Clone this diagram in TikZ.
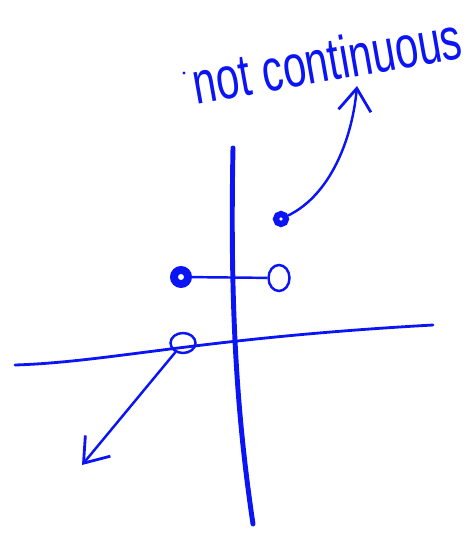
\documentclass[tikz,border=0pt]{standalone}
\usepackage{fontspec}
\setmainfont{Liberation Sans}
\usepackage{tikz}
\usetikzlibrary{
  shapes.geometric,
  arrows.meta,
  positioning
}
\definecolor{penblue}{RGB}{10,20,245}

\begin{document}
\begin{tikzpicture}[x=0.02cm, y=-0.02cm,
  axis/.style={draw=penblue, line cap=round},
  hole/.style={ellipse, draw=penblue, line width=1.4pt, inner sep=0pt, minimum width=0.5cm, minimum height=0.4cm},
  dot/.style={circle, draw=penblue, line width=4.5pt, fill=white, inner sep=0pt, minimum size=0.28cm},
  arr/.style={draw=penblue, line width=1.4pt, line cap=round, -{Straight Barb[length=0.45cm, width=0.65cm, line width=1.6pt]}}
]
  \useasboundingbox (0,0) rectangle (471,533);
  % axes
  \coordinate (ytop) at (233,148);
  \coordinate (ybot) at (253,524);
  \coordinate (xl) at (15,365);
  \coordinate (xr) at (433,325);
  \draw[axis, line width=2.8pt] (ytop) .. controls (230,300) and (236,410) .. (ybot);
  \draw[axis, line width=1.6pt] (xl) .. controls (110,362) and (200,338) .. (xr);
  % points
  \node[hole] (hole) at (183,343) {};
  \node[dot] (ldot) at (181,277) {};
  \node[hole, minimum width=0.42cm, minimum height=0.52cm] (rhole) at (279,278) {};
  \node[dot, line width=3.5pt, minimum size=0.2cm] (tdot) at (281,219) {};
  \draw[draw=penblue, line width=1.4pt] (ldot) -- (rhole);
  % arrows
  \coordinate (tipA) at (82,465);
  \coordinate (tipB) at (357,86);
  \draw[arr] (hole) -- (tipA);
  \draw[arr] (tdot) .. controls (330,195) and (352,140) .. (tipB);
  % label
  \fill[penblue] (184,73) circle (1.6);
  \node[text=penblue, rotate=10, inner sep=1pt, font=\fontsize{34}{36}\selectfont] (lbl) at (327,60) {\scalebox{0.7}[1]{not continuous}};
\end{tikzpicture}
\end{document}
